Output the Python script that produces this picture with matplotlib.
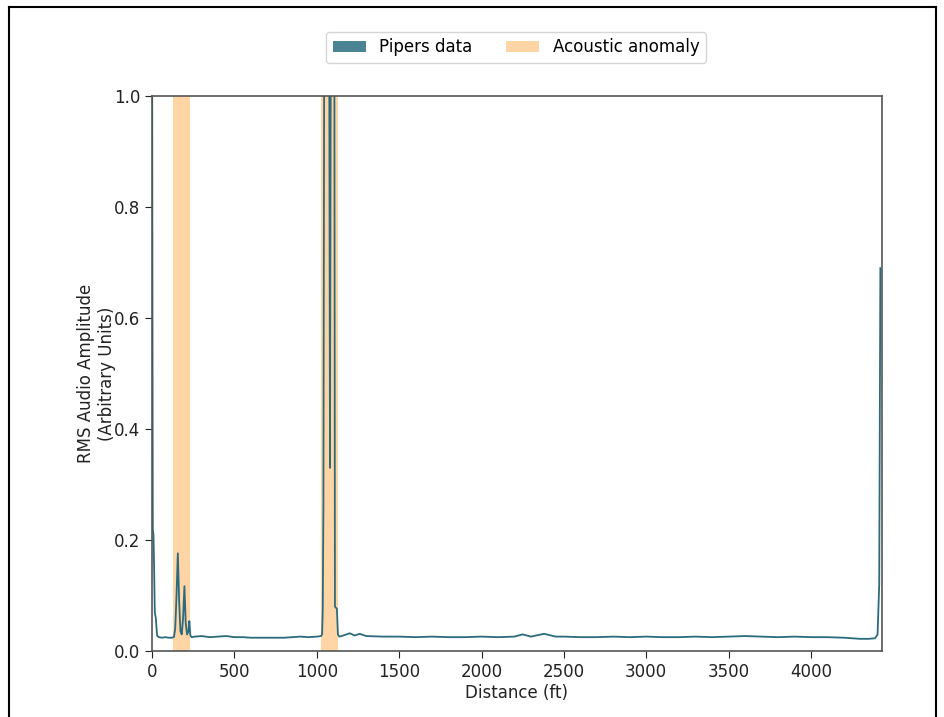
import numpy as np
import matplotlib.pyplot as plt
from matplotlib.patches import Patch
from matplotlib.lines import Line2D

# ---- data ----
# start of run
dist_start = [0, 2, 4, 8, 12, 16, 22, 30, 40, 60, 80, 100, 120, 132]
amp_start = [1.05, 0.6, 0.22, 0.21, 0.15, 0.07, 0.06, 0.028, 0.025, 0.024, 0.025, 0.024, 0.024, 0.025]

# first anomaly
dist_a1 = [140, 148, 156, 164, 172, 180, 188, 196, 204, 212, 220, 226, 232, 240]
amp_a1 = [0.04, 0.10, 0.176, 0.09, 0.035, 0.03, 0.06, 0.117, 0.05, 0.03, 0.035, 0.054, 0.028, 0.025]

# baseline between anomalies
dist_mid = [260, 300, 350, 400, 450, 500, 550, 600, 650, 700, 750, 800, 850, 900, 950, 1000, 1025]
amp_mid = [0.026, 0.027, 0.025, 0.026, 0.027, 0.025, 0.025, 0.024, 0.024, 0.024, 0.024, 0.024, 0.025, 0.026, 0.025, 0.026, 0.027]

# second anomaly (clipped at 1.0 by the axis)
dist_a2 = [1032, 1036, 1040, 1046, 1060, 1074, 1080, 1086, 1100, 1106, 1110, 1116, 1122, 1128, 1136]
amp_a2 = [0.03, 0.075, 0.26, 1.3, 1.6, 1.3, 0.33, 1.3, 1.5, 1.2, 0.08, 0.078, 0.076, 0.03, 0.026]

# baseline to the end of the run
dist_end = [1150, 1200, 1230, 1260, 1300, 1400, 1500, 1600, 1700, 1800, 1900, 2000, 2100, 2200,
            2250, 2300, 2380, 2450, 2500, 2600, 2700, 2800, 2900, 3000, 3100, 3200, 3300, 3400,
            3500, 3600, 3700, 3800, 3900, 4000, 4100, 4200, 4300, 4350, 4390, 4405, 4415, 4422]
amp_end = [0.027, 0.032, 0.028, 0.031, 0.027, 0.026, 0.026, 0.025, 0.026, 0.025, 0.025, 0.026, 0.025, 0.026,
           0.030, 0.026, 0.031, 0.026, 0.026, 0.025, 0.025, 0.026, 0.025, 0.026, 0.025, 0.025, 0.026, 0.025,
           0.026, 0.027, 0.026, 0.025, 0.026, 0.025, 0.025, 0.024, 0.022, 0.022, 0.023, 0.03, 0.12, 0.69]

distance = dist_start + dist_a1 + dist_mid + dist_a2 + dist_end
amplitude = amp_start + amp_a1 + amp_mid + amp_a2 + amp_end

# acoustic anomaly spans (ft)
anomalies = [(128, 232), (1023, 1126)]

line_color = '#2c6b7d'
span_color = '#ffd5a6'

fig = plt.figure(figsize=(9.45, 7.17), dpi=100)
ax = fig.add_axes([0.161, 0.092, 0.772, 0.774])

for start, stop in anomalies:
    ax.axvspan(start, stop, color=span_color, lw=0)
ax.plot(distance, amplitude, color=line_color, lw=1.3)

ax.set_xlim(0, 4430)
ax.set_ylim(0, 1.0)
ax.set_xticks(range(0, 4001, 500))
ax.set_yticks([0.0, 0.2, 0.4, 0.6, 0.8, 1.0])
ax.tick_params(labelsize=12, colors='#222222', length=5)
for s in ax.spines.values():
    s.set_color('#555555')
    s.set_linewidth(1.2)

ax.set_xlabel('Distance (ft)', fontsize=12, color='#222222', labelpad=2)
ax.set_ylabel('RMS Audio Amplitude\n(Arbitrary Units)', fontsize=12, color='#222222')
ax.yaxis.set_label_coords(-0.05, 0.5)

handles = [Patch(facecolor='#4a8391', label='Pipers data'),
           Patch(facecolor=span_color, label='Acoustic anomaly')]
fig.legend(handles=handles, loc='center', bbox_to_anchor=(0.546, 0.934), ncol=2,
           fontsize=12, frameon=True, handlelength=2.0, columnspacing=2.0)

# screenshot frame
fig.add_artist(Line2D([0.009, 0.009], [0.0, 0.99], color='black', lw=1.5, transform=fig.transFigure))
fig.add_artist(Line2D([0.991, 0.991], [0.0, 0.99], color='black', lw=1.5, transform=fig.transFigure))
fig.add_artist(Line2D([0.009, 0.991], [0.99, 0.99], color='black', lw=1.5, transform=fig.transFigure))

fig.savefig('out.png', dpi=100)
